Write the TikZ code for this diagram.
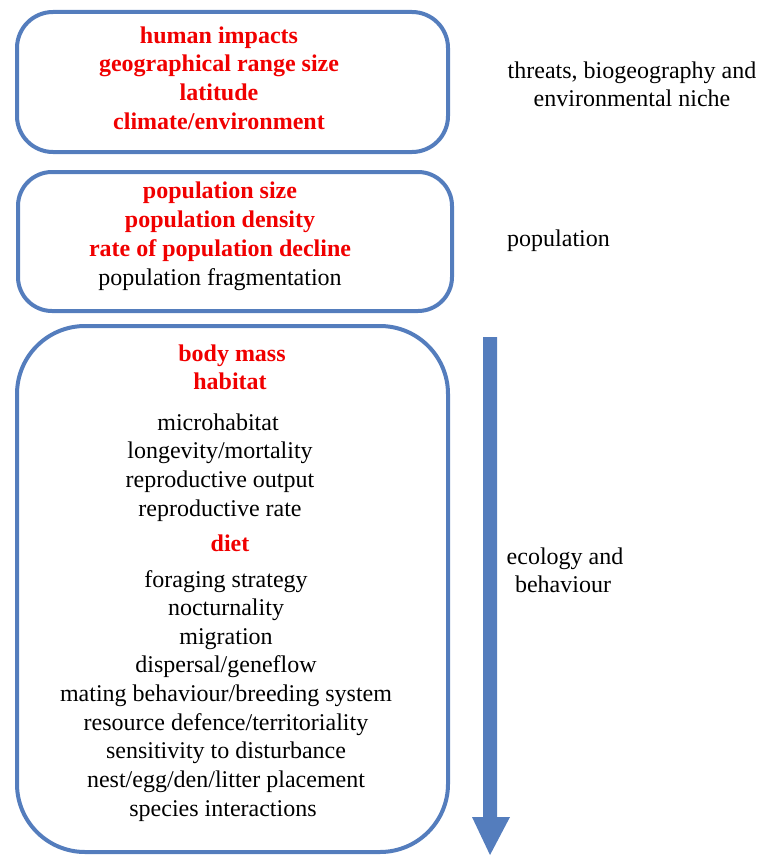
\documentclass[tikz,border=0pt]{standalone}
\usepackage{fontspec}
\setmainfont{Liberation Serif}
\definecolor{boxblue}{RGB}{84,125,189}
\definecolor{hired}{RGB}{240,0,0}
\tikzset{
  x=1pt, y=1pt,
  bluebox/.style={draw=boxblue, line width=4pt, inner sep=0pt},
  ln/.style={anchor=base, inner sep=0pt, font=\fontsize{24}{29}\selectfont},
  hl/.style={ln, text=hired, font=\fontsize{24}{29}\selectfont\bfseries},
  side/.style={anchor=base, inner sep=0pt, font=\fontsize{24}{29}\selectfont},
}
\begin{document}
\begin{tikzpicture}
\useasboundingbox (0,0) rectangle (758,-856);
% boxes
\node[bluebox, rounded corners=36pt, minimum width=431pt, minimum height=140pt] (b1) at (232.5,-82) {};
\node[bluebox, rounded corners=34pt, minimum width=434pt, minimum height=139pt] (b2) at (235,-241.5) {};
\node[bluebox, rounded corners=68pt, minimum width=431pt, minimum height=526pt] (b3) at (232.5,-589) {};
% box 1 text
\node[hl] (t11) at (219,-43.5) {human impacts};
\node[hl] (t12) at (219,-72) {geographical range size};
\node[hl] (t13) at (219,-100.5) {latitude};
\node[hl] (t14) at (219,-129.5) {climate/environment};
% box 2 text
\node[hl] (t21) at (220,-198.5) {population size};
\node[hl] (t22) at (220,-227.5) {population density};
\node[hl] (t23) at (220,-256.5) {rate of population decline};
\node[ln] (t24) at (220,-285.5) {population fragmentation};
% box 3 text
\node[hl] (t31) at (232,-361.5) {body mass};
\node[hl] (t32) at (230,-389.5) {habitat};
\node[ln] (t33) at (218,-430.5) {microhabitat};
\node[ln] (t34) at (220,-458.5) {longevity/mortality};
\node[ln] (t35) at (220,-487.5) {reproductive output};
\node[ln] (t36) at (220,-516.5) {reproductive rate};
\node[hl] (t37) at (230,-551.5) {diet};
\node[ln] (t38) at (226,-587.5) {foraging strategy};
\node[ln] (t39) at (226,-615.5) {nocturnality};
\node[ln] (t310) at (226,-644.5) {migration};
\node[ln] (t311) at (226,-672.5) {dispersal/geneflow};
\node[ln] (t312) at (226,-701.5) {mating behaviour/breeding system};
\node[ln] (t313) at (226,-730.5) {resource defence/territoriality};
\node[ln] (t314) at (226,-758.5) {sensitivity to disturbance};
\node[ln] (t315) at (226,-787.5) {nest/egg/den/litter placement};
\node[ln] (t316) at (223,-816.5) {species interactions};
% side labels
\node[side] (s1) at (632,-78.5) {threats, biogeography and};
\node[side] (s2) at (632,-106.5) {environmental niche};
\node[side, anchor=base west] (s3) at (507,-246.5) {population};
\node[side] (s4) at (565,-564.5) {ecology and};
\node[side] (s5) at (563,-592.5) {behaviour};
% arrow
\coordinate (atop) at (490,-337);
\coordinate (atip) at (490,-855);
\fill[boxblue] (483,-337) -- (497,-337) -- (497,-817) -- (510,-817) -- (atip) -- (472,-817) -- (483,-817) -- cycle;
\end{tikzpicture}
\end{document}
